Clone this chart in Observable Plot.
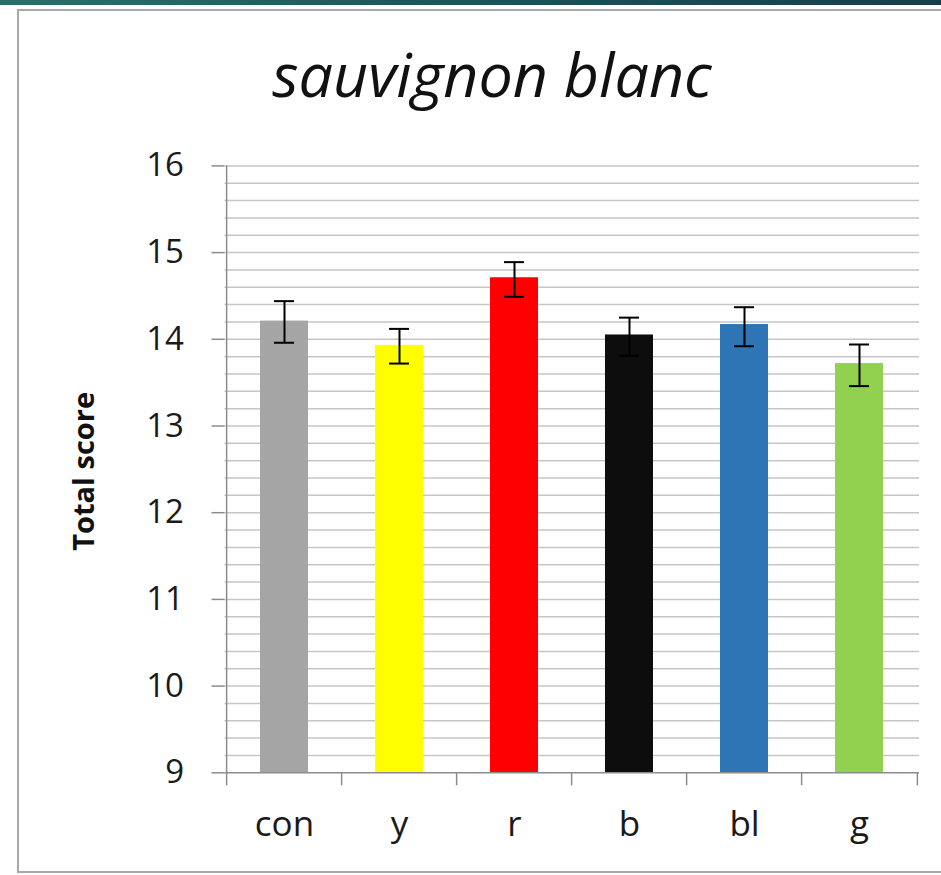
<!DOCTYPE html>
<html><head><meta charset="utf-8">
<script src="https://cdn.jsdelivr.net/npm/d3@7"></script>
<script src="https://cdn.jsdelivr.net/npm/@observablehq/plot@0.6"></script>
<style>
body{margin:0;background:#fff;width:941px;height:875px;overflow:hidden;position:relative;font-family:"Open Sans",sans-serif}
#strip{position:absolute;left:0;top:0;width:941px;height:5px;background:linear-gradient(90deg,#2f6e69,#1d5058 55%,#163f4a)}
#frame{position:absolute;left:17px;top:9px;width:960px;height:864px;border:2px solid #a9a9a9;box-sizing:border-box}
#title{position:absolute;left:0;width:984px;top:32px;text-align:center;font-style:italic;font-size:61px;color:#111}
#chart{position:absolute;left:0;top:140px}
</style></head>
<body>
<div id="strip"></div>
<div id="frame"></div>
<div id="title">sauvignon blanc</div>
<div id="chart"></div>
<script>
const categories = ["con", "y", "r", "b", "bl", "g"];
const means = [14.21, 13.93, 14.71, 14.05, 14.17, 13.72];
const errorCenters = [14.20, 13.92, 14.69, 14.03, 14.145, 13.70];
const errors = [0.24, 0.20, 0.20, 0.22, 0.225, 0.24];
const barColors = ["#a5a5a5", "#ffff00", "#ff0000", "#0d0d0d", "#2e75b6", "#92d050"];
const yTicks = [9, 10, 11, 12, 13, 14, 15, 16];
const yLabel = "Total score";

const data = categories.map((c, i) => ({cat: c, mean: means[i], lo: errorCenters[i] - errors[i], hi: errorCenters[i] + errors[i]}));
const gridValues = d3.range(46, 81).map(k => k / 5);

const W = 941, H = 735, mL = 224.5, mR = 22, mT = 25.4, mB = 102.7;
const step = (W - mL - mR) / categories.length;
const frameH = H - mT - mB;

const chart = Plot.plot({
  width: W, height: H,
  marginLeft: mL, marginRight: mR, marginTop: mT, marginBottom: mB,
  style: {fontFamily: "Open Sans, sans-serif", background: "transparent"},
  x: {domain: categories, paddingInner: 0.586, paddingOuter: 0.293, axis: null},
  y: {domain: [9, 16], axis: null},
  color: {domain: categories, range: barColors},
  marks: [
    Plot.ruleY(gridValues, {stroke: "#c6c6c6", strokeWidth: 1.5}),
    Plot.barY(data, {x: "cat", y1: 9, y2: "mean", fill: "cat"}),
    Plot.ruleY([9], {stroke: "#8c8c8c", strokeWidth: 1.5}),
    Plot.ruleX([categories[0]], {x: d => d, dx: -step / 2, y1: 9, y2: 16, stroke: "#8c8c8c", strokeWidth: 1.5}),
    Plot.ruleX(categories, {x: d => d, dx: -step / 2, insetTop: frameH, insetBottom: -13, stroke: "#8c8c8c", strokeWidth: 1.5}),
    Plot.ruleX([categories[categories.length - 1]], {x: d => d, dx: step / 2, insetTop: frameH, insetBottom: -13, stroke: "#8c8c8c", strokeWidth: 1.5}),
    Plot.ruleX(data, {x: "cat", y1: "lo", y2: "hi", stroke: "#000", strokeWidth: 2}),
    Plot.tickY(data, {x: "cat", y: "lo", insetLeft: 14, insetRight: 14, stroke: "#000", strokeWidth: 2}),
    Plot.tickY(data, {x: "cat", y: "hi", insetLeft: 14, insetRight: 14, stroke: "#000", strokeWidth: 2}),
    Plot.axisY(yTicks, {tickSize: 13, tickPadding: 28, fontSize: 33, tickFormat: d => String(d), stroke: "#8c8c8c", strokeWidth: 1.5, fill: "#1a1a1a", label: null}),
    Plot.axisX({tickSize: 0, tickPadding: 38, fontSize: 35, fill: "#1a1a1a", label: null}),
    Plot.text([yLabel], {frameAnchor: "left", textAnchor: "middle", dx: -140.5, dy: 2, rotate: -90, fontWeight: "bold", fontSize: 29, fill: "#111"})
  ]
});
document.getElementById("chart").appendChild(chart);
</script>
</body></html>
